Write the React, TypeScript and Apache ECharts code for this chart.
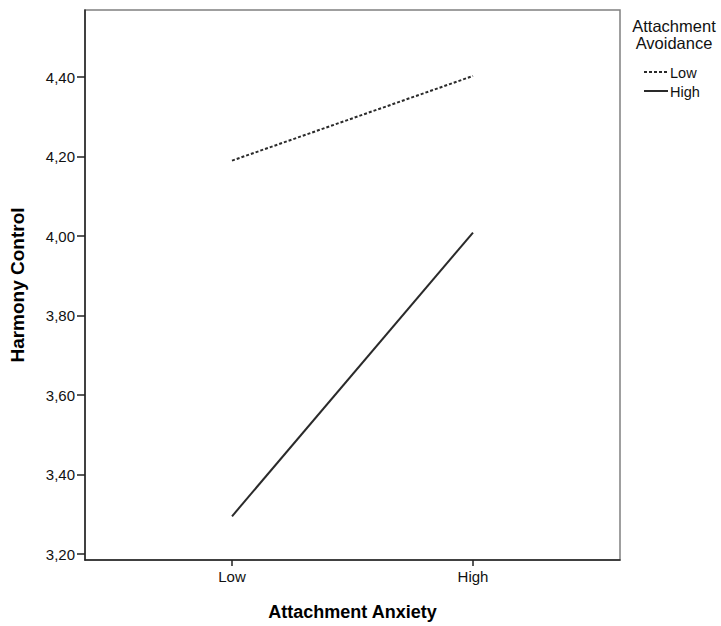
import React, { useEffect, useRef } from "react";
import * as echarts from "echarts";

const categories = ["Low", "High"];
const yTicks = [3.2, 3.4, 3.6, 3.8, 4.0, 4.2, 4.4];
const lowAvoidance = [4.19, 4.403];
const highAvoidance = [3.295, 4.009];
const legendTitleLines = ["Attachment", "Avoidance"];
const legendNames = ["Low", "High"];
const xTitle = "Attachment Anxiety";
const yTitle = "Harmony Control";

const FONT = "'Liberation Sans', Arial, sans-serif";
const LINE_COLOR = "#2a2a2a";
const DASH = [3, 2];

export default function App() {
  const ref = useRef<HTMLDivElement>(null);
  useEffect(() => {
    if (!ref.current) return;
    const chart = echarts.init(ref.current, null, { renderer: "svg" });
    const toPts = (arr: number[]) => arr.map((v, i) => [i, v]);
    const legendY = [72, 91];
    const legendGraphics: any[] = [];
    legendTitleLines.forEach((line, i) => {
      legendGraphics.push({
        type: "text",
        x: 674,
        y: 26 + i * 17,
        style: {
          text: line,
          font: `16.5px ${FONT}`,
          fill: "#111",
          align: "center",
          verticalAlign: "middle",
        },
      });
    });
    legendNames.forEach((name, i) => {
      legendGraphics.push({
        type: "line",
        shape: { x1: 644, y1: legendY[i], x2: 668, y2: legendY[i] },
        style: {
          stroke: LINE_COLOR,
          lineWidth: 2,
          lineDash: i === 0 ? DASH : null,
        },
      });
      legendGraphics.push({
        type: "text",
        x: 670,
        y: legendY[i] + 1,
        style: {
          text: name,
          font: `14.5px ${FONT}`,
          fill: "#111",
          verticalAlign: "middle",
          align: "left",
        },
      });
    });
    chart.setOption({
      animation: false,
      backgroundColor: "#ffffff",
      textStyle: { fontFamily: FONT },
      grid: {
        left: 81,
        right: 101,
        top: 10,
        bottom: 66,
        show: true,
        borderColor: "#808080",
        borderWidth: 1.5,
        backgroundColor: "transparent",
      },
      xAxis: {
        type: "value",
        min: -0.61,
        max: 1.61,
        name: xTitle,
        nameLocation: "middle",
        nameGap: 43,
        nameTextStyle: { fontFamily: FONT, fontWeight: "bold", fontSize: 18, color: "#000" },
        splitLine: { show: false },
        axisLine: { show: true, onZero: false, lineStyle: { color: "#222", width: 1.5 } },
        axisTick: { show: true, length: 6, customValues: [0, 1], lineStyle: { color: "#222", width: 1.5 } },
        axisLabel: {
          customValues: [0, 1],
          formatter: (v: number) => categories[Math.round(v)] ?? "",
          fontSize: 15,
          color: "#111",
          margin: 9,
          fontFamily: FONT,
        },
      },
      yAxis: {
        type: "value",
        min: 3.185,
        max: 4.569,
        name: yTitle,
        nameLocation: "middle",
        nameGap: 58,
        nameTextStyle: { fontFamily: FONT, fontWeight: "bold", fontSize: 19, color: "#000" },
        splitLine: { show: false },
        axisLine: { show: true, onZero: false, lineStyle: { color: "#222", width: 1.5 } },
        axisTick: { show: true, length: 8, customValues: yTicks, lineStyle: { color: "#222", width: 1.5 } },
        axisLabel: {
          customValues: yTicks,
          formatter: (v: number) => v.toFixed(2).replace(".", ","),
          fontSize: 15,
          color: "#111",
          margin: 10,
          fontFamily: FONT,
        },
      },
      graphic: legendGraphics,
      series: [
        {
          name: "Low",
          type: "line",
          data: toPts(lowAvoidance),
          symbol: "none",
          lineStyle: { color: LINE_COLOR, width: 2, type: DASH },
        },
        {
          name: "High",
          type: "line",
          data: toPts(highAvoidance),
          symbol: "none",
          lineStyle: { color: LINE_COLOR, width: 2, type: "solid" },
        },
      ],
    });
    return () => chart.dispose();
  }, []);
  return <div ref={ref} style={{ width: 721, height: 626, position: "absolute", left: 0, top: 0 }} />;
}
